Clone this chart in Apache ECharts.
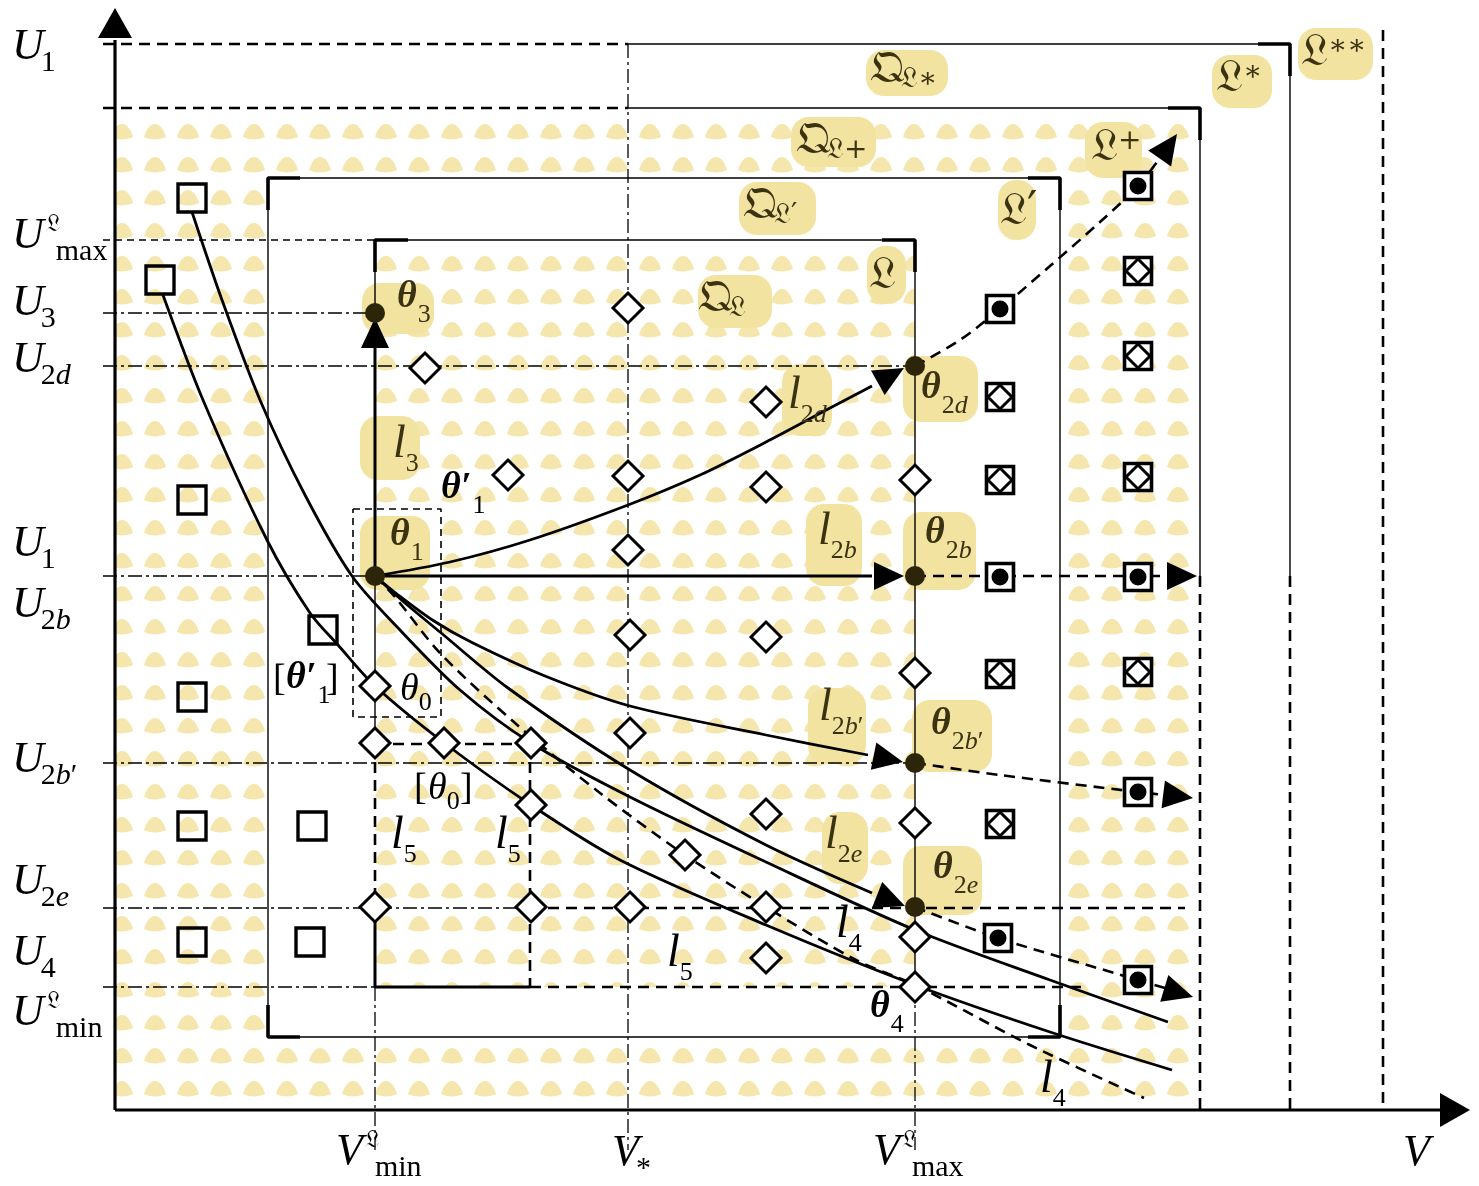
<!DOCTYPE html>
<html>
<head>
<meta charset="utf-8">
<script src="https://cdn.jsdelivr.net/npm/echarts@6/dist/echarts.min.js"></script>
<style>
  html, body { margin: 0; background: #fff; }
  #main { width: 1479px; height: 1186px; }
</style>
</head>
<body>
<div id="main"></div>
<script>
// plane is laid out in picture units: V to the right, U measured downwards
var outerDots = [[115, 108, 1200, 1105]];
var blankZone = [[268, 178, 1060, 1037]];
var innerDots = [[375, 240, 915, 987]];

var highlights = [
  [362, 283, 434, 334], [360, 416, 420, 480], [360, 516, 430, 590],
  [782, 364, 832, 436], [903, 356, 978, 422], [806, 504, 862, 586],
  [903, 512, 976, 590], [808, 688, 866, 764], [912, 700, 992, 772],
  [822, 812, 868, 884], [903, 846, 982, 915],
  [866, 50, 948, 96], [1212, 55, 1272, 108], [1298, 28, 1373, 80],
  [791, 117, 876, 167], [1085, 122, 1142, 178], [739, 182, 816, 235],
  [998, 180, 1036, 240], [867, 246, 906, 304], [698, 275, 772, 328]
];

// axes
var axisU = [[115, 1110], [115, 40]];
var axisV = [[115, 1110], [1440, 1110]];

// reference levels
var refDashDot = [
  [[103, 313], [375, 313]], [[103, 366], [915, 366]], [[103, 576], [375, 576]],
  [[103, 763], [915, 763]], [[103, 908], [530, 908]], [[103, 987], [375, 987]],
  [[375, 987], [375, 1150]], [[628, 44], [628, 1150]], [[915, 987], [915, 1150]]
];
var refThinDash = [
  [[103, 240], [375, 240]],
  [[353, 509], [441, 509], [441, 717], [353, 717], [353, 509]]
];
var thickDash = [
  [[103, 44], [628, 44]], [[103, 108], [628, 108]],
  [[530, 908], [1185, 908]], [[530, 987], [1083, 987]],
  [[375, 744], [530, 744]], [[530, 744], [530, 987]], [[375, 744], [375, 908]],
  [[1383, 30], [1383, 1110]], [[1200, 576], [1200, 1110]], [[1290, 576], [1290, 1110]],
  [[915, 576], [1168, 576]]
];
var dashCurves = [
  [[915, 366], [960, 340], [1000, 309], [1050, 266], [1100, 222], [1138, 186], [1160, 158]],
  [[915, 763], [1000, 775], [1138, 792], [1165, 795]],
  [[915, 907], [998, 938], [1138, 980], [1165, 988]],
  [[375, 576], [395, 597], [440, 653], [515, 723], [600, 793], [685, 855], [766, 907],
   [856, 960], [915, 985], [1030, 1045], [1144, 1098]]
];
var thinSolid = [
  [[628, 44], [1290, 44], [1290, 576]],
  [[628, 108], [1200, 108], [1200, 576]],
  [[268, 178], [1060, 178], [1060, 1037], [268, 1037], [268, 178]],
  [[375, 313], [375, 240], [915, 240], [915, 987]],
  [[375, 576], [375, 744]]
];
var thickSolid = [
  [[375, 576], [375, 347]],
  [[375, 576], [872, 576]],
  [[375, 908], [375, 987], [530, 987]]
];
var solidCurves = [
  [[375, 576], [450, 562], [530, 540], [628, 505], [700, 475], [766, 442], [830, 408], [872, 386]],
  [[375, 576], [397, 594], [434, 621], [471, 642], [545, 676], [630, 706], [766, 735], [868, 755]],
  [[375, 576], [405, 603], [440, 632], [508, 688], [630, 770], [766, 845], [872, 893]],
  [[192, 212], [222, 300], [260, 400], [305, 495], [352, 576], [400, 630], [460, 690],
   [531, 743], [630, 797], [766, 862], [915, 930], [1050, 980], [1168, 1022]],
  [[163, 295], [203, 400], [267, 540], [310, 613], [338, 645], [375, 686], [443, 742],
   [531, 805], [620, 860], [766, 925], [915, 985], [1050, 1032], [1172, 1070]]
];
var corners = [
  [[1258, 44], [1290, 44], [1290, 76]], [[1168, 108], [1200, 108], [1200, 140]],
  [[268, 210], [268, 178], [300, 178]], [[1028, 178], [1060, 178], [1060, 210]],
  [[268, 1005], [268, 1037], [300, 1037]], [[1028, 1037], [1060, 1037], [1060, 1005]],
  [[375, 272], [375, 240], [408, 240]], [[882, 240], [915, 240], [915, 272]]
];

// arrowheads: tip, then a point behind it
var axisArrows = [[115, 8, 115, 60], [1470, 1110, 1400, 1110]];
var flowArrows = [
  [375, 318, 375, 400], [904, 576, 800, 576], [904, 368, 872, 386],
  [903, 762, 868, 755], [905, 906, 872, 893],
  [1177, 134, 1160, 158], [1197, 576, 1150, 576], [1193, 798, 1160, 794], [1193, 997, 1160, 987]
];

// states
var squares = [[192, 198], [160, 280], [192, 500], [323, 630], [192, 697], [192, 826], [312, 826], [192, 942], [310, 942]];
var diamonds = [[628, 308], [425, 368], [766, 402], [508, 475], [628, 476], [766, 487], [915, 480], [628, 550],
  [630, 635], [766, 637], [915, 673], [375, 686], [375, 743], [444, 743], [531, 743], [630, 733],
  [531, 805], [766, 814], [915, 823], [685, 855], [375, 907], [531, 907], [630, 907], [766, 907],
  [915, 937], [766, 958], [915, 987]];
var boxedDiamonds = [[1138, 271], [1138, 356], [1000, 397], [1000, 480], [1138, 477], [1000, 674], [1138, 672], [1000, 824]];
var boxedDots = [[1138, 186], [1000, 309], [1000, 577], [1138, 577], [1138, 792], [998, 938], [1138, 980]];
var thetaPoints = [[375, 313], [375, 576], [915, 366], [915, 576], [915, 763], [915, 907]];

// labels: x, y, body, subscript, superscript, kind
var labels = [
  [12, 47, 'U', '1', '', 'U'], [12, 236, 'U', 'max', '𝔏', 'U'], [12, 303, 'U', '3', '', 'U'],
  [12, 360, 'U', '2d', '', 'U'], [12, 544, 'U', '1', '', 'U'], [12, 605, 'U', '2b', '', 'U'],
  [12, 760, 'U', '2b′', '', 'U'], [12, 882, 'U', '2e', '', 'U'], [12, 953, 'U', '4', '', 'U'],
  [12, 1013, 'U', 'min', '𝔏', 'U'],
  [336, 1152, 'V', 'min', '𝔏', 'U'], [612, 1153, 'V', '*', '', 'U'], [873, 1152, 'V', 'max', '𝔏', 'U'],
  [1403, 1153, 'V', '', '', 'U'],
  [397, 297, 'θ', '3', '', 'th'], [441, 488, 'θ′', '1', '', 'th'], [390, 535, 'θ', '1', '', 'th'],
  [921, 388, 'θ', '2d', '', 'th'], [925, 533, 'θ', '2b', '', 'th'], [931, 724, 'θ', '2b′', '', 'th'],
  [933, 868, 'θ', '2e', '', 'th'], [870, 1007, 'θ', '4', '', 'th'], [286, 678, 'θ′', '1', '', 'th'],
  [400, 690, 'θ', '0', '', 'thN'], [428, 789, 'θ', '0', '', 'thN'],
  [273, 680, '[', '', '', 'br'], [326, 680, ']', '', '', 'br'],
  [414, 789, '[', '', '', 'br'], [460, 789, ']', '', '', 'br'],
  [393, 445, 'l', '3', '', 'el'], [788, 396, 'l', '2d', '', 'el'], [818, 532, 'l', '2b', '', 'el'],
  [819, 708, 'l', '2b′', '', 'el'], [825, 836, 'l', '2e', '', 'el'], [391, 836, 'l', '5', '', 'el'],
  [495, 836, 'l', '5', '', 'el'], [667, 954, 'l', '5', '', 'el'], [836, 925, 'l', '4', '', 'el'],
  [1040, 1080, 'l', '4', '', 'el'],
  [870, 70, '𝔔', '𝔏∗', '', 'fq'], [1216, 79, '𝔏', '', '∗', 'fl'], [1301, 53, '𝔏', '', '∗∗', 'fl'],
  [796, 141, '𝔔', '𝔏+', '', 'fq'], [1091, 148, '𝔏', '', '+', 'fl'], [743, 206, '𝔔', '𝔏′', '', 'fq'],
  [1000, 212, '𝔏′', '', '', 'fl'], [869, 276, '𝔏', '', '', 'fl'], [698, 299, '𝔔', '𝔏', '', 'fq']
];

var SERIF = '"Liberation Serif", "DejaVu Serif", serif';
var FRAK = '"DejaVu Serif", "DejaVu Sans", "Noto Sans", serif';
var kinds = {
  U: { main: 'italic 44px ' + SERIF, sub: '30px ' + SERIF, subI: 'italic 30px ' + SERIF, sup: '24px ' + FRAK, dySub: 16, dySup: -11, dxSub: -3, dxSubSup: 12, dxSup: 2 },
  th: { main: 'italic bold 38px ' + SERIF, sub: '26px ' + SERIF, subI: 'italic 26px ' + SERIF, dySub: 18, dxSub: 1 },
  thN: { main: 'italic 38px ' + SERIF, sub: '26px ' + SERIF, subI: 'italic 26px ' + SERIF, dySub: 13, dxSub: 0 },
  el: { main: 'italic 46px ' + SERIF, sub: '26px ' + SERIF, subI: 'italic 26px ' + SERIF, dySub: 19, dxSub: 0 },
  br: { main: '38px ' + SERIF },
  fq: { main: '46px ' + FRAK, sub: '28px ' + FRAK, subI: '28px ' + FRAK, dySub: 10, dxSub: -3 },
  fl: { main: '46px ' + FRAK, sup: '28px ' + FRAK, dySup: -6, dxSup: 0 }
};

var meas = document.createElement('canvas').getContext('2d');
function textWidth(t, font) { meas.font = font; return meas.measureText(t).width; }

function inHighlight(x, y) {
  return highlights.some(function (h) { return x >= h[0] - 4 && x <= h[2] && y >= h[1] && y <= h[3]; });
}

function dotTile() {
  var c = document.createElement('canvas');
  c.width = 33; c.height = 33;
  var g = c.getContext('2d');
  g.fillStyle = '#f4e6ad';
  [[23, 0], [23, 33], [-10, 0], [-10, 33]].forEach(function (p) {
    var x = p[0], y = p[1];
    g.beginPath();
    g.moveTo(x - 11, y + 5);
    g.bezierCurveTo(x - 9, y - 2, x - 5, y - 8, x, y - 8);
    g.bezierCurveTo(x + 5, y - 8, x + 9, y - 2, x + 11, y + 5);
    g.quadraticCurveTo(x, y + 10, x - 11, y + 5);
    g.fill();
  });
  return c;
}
var dotFill = { image: dotTile(), repeat: 'repeat' };

function rectSeries(data, fill, radius, z) {
  return {
    type: 'custom', silent: true, z: z, data: data, encode: { x: [0, 2], y: [1, 3] },
    renderItem: function (params, api) {
      var a = api.coord([api.value(0), api.value(1)]);
      var b = api.coord([api.value(2), api.value(3)]);
      return { type: 'rect', shape: { x: a[0], y: a[1], width: b[0] - a[0], height: b[1] - a[1], r: radius }, style: { fill: fill } };
    }
  };
}

function pathSeries(list, width, dash, smooth) {
  return list.map(function (pts) {
    return {
      type: 'line', data: pts, smooth: smooth ? 0.3 : false, symbol: 'none', silent: true, z: 5,
      lineStyle: { color: '#000', width: width, type: dash, cap: 'butt' }
    };
  });
}

function arrowSeries(data, len, half) {
  return {
    type: 'custom', silent: true, z: 6, data: data, encode: { x: [0, 2], y: [1, 3] },
    renderItem: function (params, api) {
      var tip = api.coord([api.value(0), api.value(1)]);
      var back = api.coord([api.value(2), api.value(3)]);
      var dx = tip[0] - back[0], dy = tip[1] - back[1];
      var d = Math.sqrt(dx * dx + dy * dy); dx /= d; dy /= d;
      var bx = tip[0] - dx * len, by = tip[1] - dy * len;
      return { type: 'polygon', shape: { points: [tip, [bx - dy * half, by + dx * half], [bx + dy * half, by - dx * half]] }, style: { fill: '#000' } };
    }
  };
}

function marker(data, symbol, size, fill, border, z) {
  return {
    type: 'scatter', data: data, symbol: symbol, symbolSize: size, silent: true, z: z,
    itemStyle: { color: fill, borderColor: '#000', borderWidth: border, opacity: 1 }
  };
}

function subPieces(sub, k) {
  if (sub === 'max' || sub === 'min' || sub === '*') return [[sub, k.sub]];
  return Array.from(sub).map(function (ch) { return [ch, /[a-z]/.test(ch) ? k.subI : k.sub]; });
}

var labelSeries = {
  type: 'custom', silent: true, z: 8,
  data: labels.map(function (l) { return [l[0], l[1]]; }),
  renderItem: function (params, api) {
    var L = labels[params.dataIndex];
    var k = kinds[L[5]];
    var p = api.coord([api.value(0), api.value(1)]);
    var col = inHighlight(L[0], L[1]) ? '#3a3210' : '#000';
    var kids = [];
    function put(t, font, x, y) {
      kids.push({ type: 'text', style: { text: t, x: x, y: y, font: font, fill: col, align: 'left', verticalAlign: 'middle', textAlign: 'left', textVerticalAlign: 'middle' } });
      return textWidth(t, font);
    }
    var end = p[0] + put(L[2], k.main, p[0], p[1]);
    if (L[4]) put(L[4], k.sup, end + k.dxSup, p[1] + k.dySup);
    if (L[3]) {
      var x = end + (L[4] ? k.dxSubSup : k.dxSub);
      subPieces(L[3], k).forEach(function (s) { x += put(s[0], s[1], x, p[1] + k.dySub); });
    }
    return { type: 'group', children: kids };
  }
};

var series = [
  rectSeries(outerDots, dotFill, 0, 1),
  rectSeries(blankZone, '#ffffff', 0, 2),
  rectSeries(innerDots, dotFill, 0, 3),
  rectSeries(highlights, '#f2e3a1', 18, 4)
]
  .concat(pathSeries([axisU, axisV], 3.2, 'solid', false))
  .concat(pathSeries(refDashDot, 1.3, [14, 4, 3, 4], false))
  .concat(pathSeries(refThinDash, 1.6, [7, 5], false))
  .concat(pathSeries(thickDash, 2.6, [11, 7], false))
  .concat(pathSeries(dashCurves, 2.6, [11, 7], true))
  .concat(pathSeries(thinSolid, 1.4, 'solid', false))
  .concat(pathSeries(thickSolid, 3, 'solid', false))
  .concat(pathSeries(solidCurves, 2.8, 'solid', true))
  .concat(pathSeries(corners, 3.6, 'solid', false))
  .concat([
    arrowSeries(axisArrows, 30, 17),
    arrowSeries(flowArrows, 30, 14),
    marker(squares, 'rect', 28, 'rgba(255,255,255,0)', 3.4, 7),
    marker(diamonds, 'diamond', 30, '#ffffff', 3, 7),
    marker(boxedDiamonds, 'rect', 27, '#ffffff', 3.6, 7),
    marker(boxedDiamonds, 'diamond', 24, '#ffffff', 3, 7.5),
    marker(boxedDots, 'rect', 27, '#ffffff', 3.6, 7),
    marker(boxedDots, 'circle', 17, '#000000', 0, 7.5),
    marker(thetaPoints, 'circle', 20, '#2d2509', 0, 7.5),
    labelSeries
  ]);

var chart = echarts.init(document.getElementById('main'));
chart.setOption({
  animation: false,
  backgroundColor: '#ffffff',
  grid: { left: 0, right: 0, top: 0, bottom: 0 },
  xAxis: { type: 'value', min: 0, max: 1479, show: false },
  yAxis: { type: 'value', min: 0, max: 1186, inverse: true, show: false },
  series: series
});
</script>
</body>
</html>
